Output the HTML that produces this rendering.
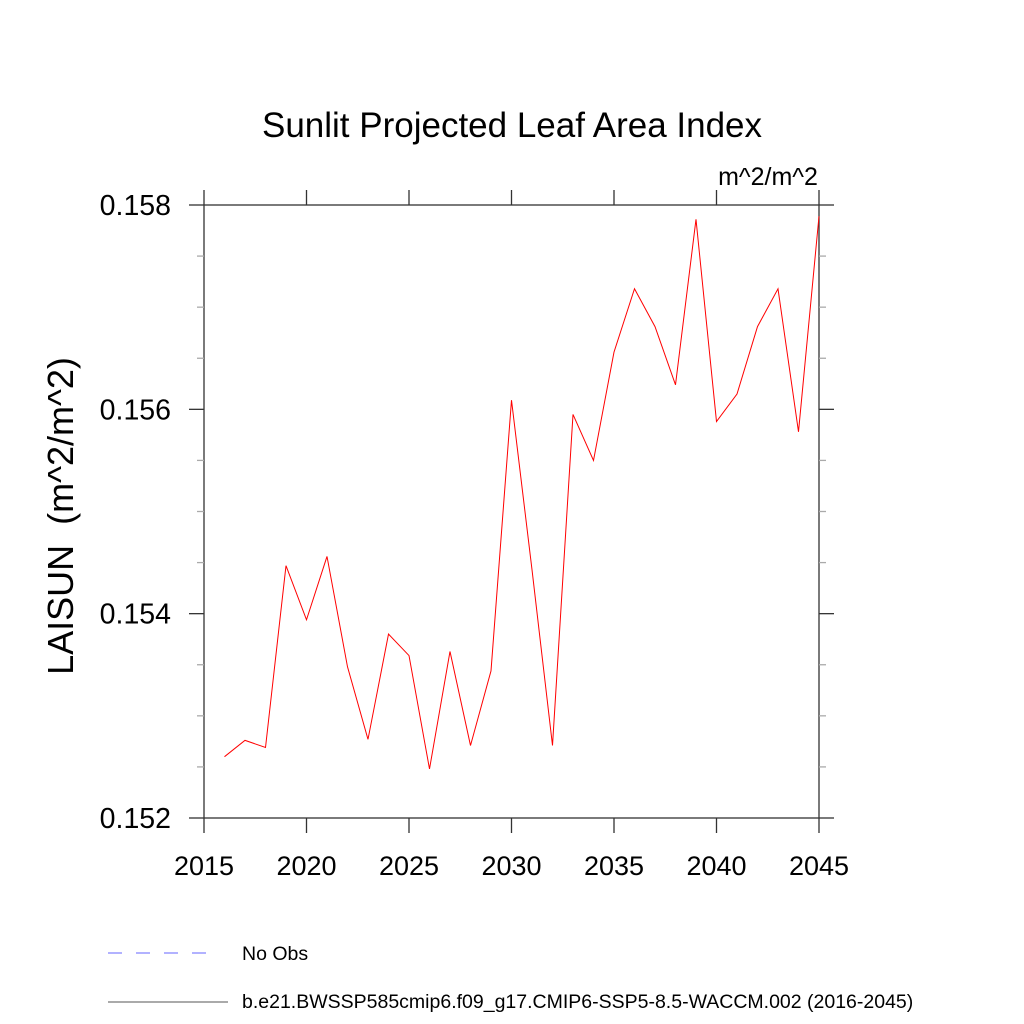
<!DOCTYPE html>
<html><head><meta charset="utf-8"><style>body{margin:0;background:#fff}svg{display:block}text{font-family:"Liberation Sans",sans-serif}</style></head>
<body>
<svg id="c" width="1024" height="1024">
<text x="512" y="137" font-size="35" text-anchor="middle">Sunlit Projected Leaf Area Index</text>
<text x="768" y="185" font-size="25" text-anchor="middle">m^2/m^2</text>
<text transform="translate(73,516) rotate(-90)" font-size="36" text-anchor="middle" style="white-space:pre">LAISUN  (m^2/m^2)</text>
<g id="axes"></g>
<g id="series"></g>
<line x1="108" y1="953" x2="218" y2="953" stroke="#6666ff" stroke-width="1" stroke-dasharray="14,14"/>
<text x="242" y="960" font-size="19.5">No Obs</text>
<line x1="108" y1="1002" x2="228" y2="1002" stroke="#555" stroke-width="1"/>
<text x="242" y="1008" font-size="19.5">b.e21.BWSSP585cmip6.f09_g17.CMIP6-SSP5-8.5-WACCM.002 (2016-2045)</text>
</svg>
<script>
const years=[2016,2017,2018,2019,2020,2021,2022,2023,2024,2025,2026,2027,2028,2029,2030,2031,2032,2033,2034,2035,2036,2037,2038,2039,2040,2041,2042,2043,2044,2045];
const values=[0.15260,0.15276,0.15269,0.15447,0.15394,0.15456,0.15348,0.15277,0.15380,0.15359,0.15248,0.15363,0.15271,0.15344,0.15609,0.15443,0.15271,0.15595,0.15550,0.15656,0.15718,0.15681,0.15624,0.15786,0.15588,0.15615,0.15681,0.15718,0.15578,0.15789];
const xTicks=[2015,2020,2025,2030,2035,2040,2045];
const yTicks=[0.152,0.154,0.156,0.158];
const yMinor=[0.1525,0.153,0.1535,0.1545,0.155,0.1555,0.1565,0.157,0.1575];
const X0=204,X1=819,Y0=818,Y1=205;
const sx=v=>X0+(v-2015)/30*(X1-X0);
const sy=v=>Y0-(v-0.152)/0.006*(Y0-Y1);
const NS="http://www.w3.org/2000/svg";
const ax=document.getElementById('axes');
function ln(x1,y1,x2,y2,c,n){const l=document.createElementNS(NS,'line');l.setAttribute('x1',x1);l.setAttribute('y1',y1);l.setAttribute('x2',x2);l.setAttribute('y2',y2);l.setAttribute('stroke',c);l.setAttribute('stroke-width',1.3);


ax.appendChild(l);}
function tx(x,y,s,a,fs,n){const t=document.createElementNS(NS,'text');t.setAttribute('x',x);t.setAttribute('y',y);t.setAttribute('font-size',fs);t.setAttribute('text-anchor',a);t.textContent=s;


ax.appendChild(t);}
const r=document.createElementNS(NS,'rect');r.setAttribute('x',X0);r.setAttribute('y',Y1);r.setAttribute('width',X1-X0);r.setAttribute('height',Y0-Y1);r.setAttribute('fill','none');r.setAttribute('stroke','#333');r.setAttribute('stroke-width',1.3);


ax.appendChild(r);
xTicks.forEach(v=>{const x=sx(v);ln(x,Y0,x,Y0+15,'#333','x-tick');ln(x,Y1,x,Y1-15,'#333','x-tick-top');tx(x,Y0+57,String(v),'middle',27,'x-tick-label');});
yTicks.forEach(v=>{const y=sy(v);ln(X0-15,y,X0,y,'#333','y-tick');ln(X1,y,X1+15,y,'#333','y-tick-right');tx(X0-33,y+10,v.toFixed(3),'end',28.5,'y-tick-label');});
yMinor.forEach(v=>{const y=sy(v);ln(X0-7,y,X0,y,'#aaa','y-minor-tick');ln(X1,y,X1+7,y,'#aaa','y-minor-tick-right');});
const p=document.createElementNS(NS,'polyline');
p.setAttribute('points',years.map((y,i)=>sx(y)+','+sy(values[i])).join(' '));
p.setAttribute('fill','none');p.setAttribute('stroke','#ff0000');p.setAttribute('stroke-width',1);


document.getElementById('series').appendChild(p);
</script>
</body></html>
